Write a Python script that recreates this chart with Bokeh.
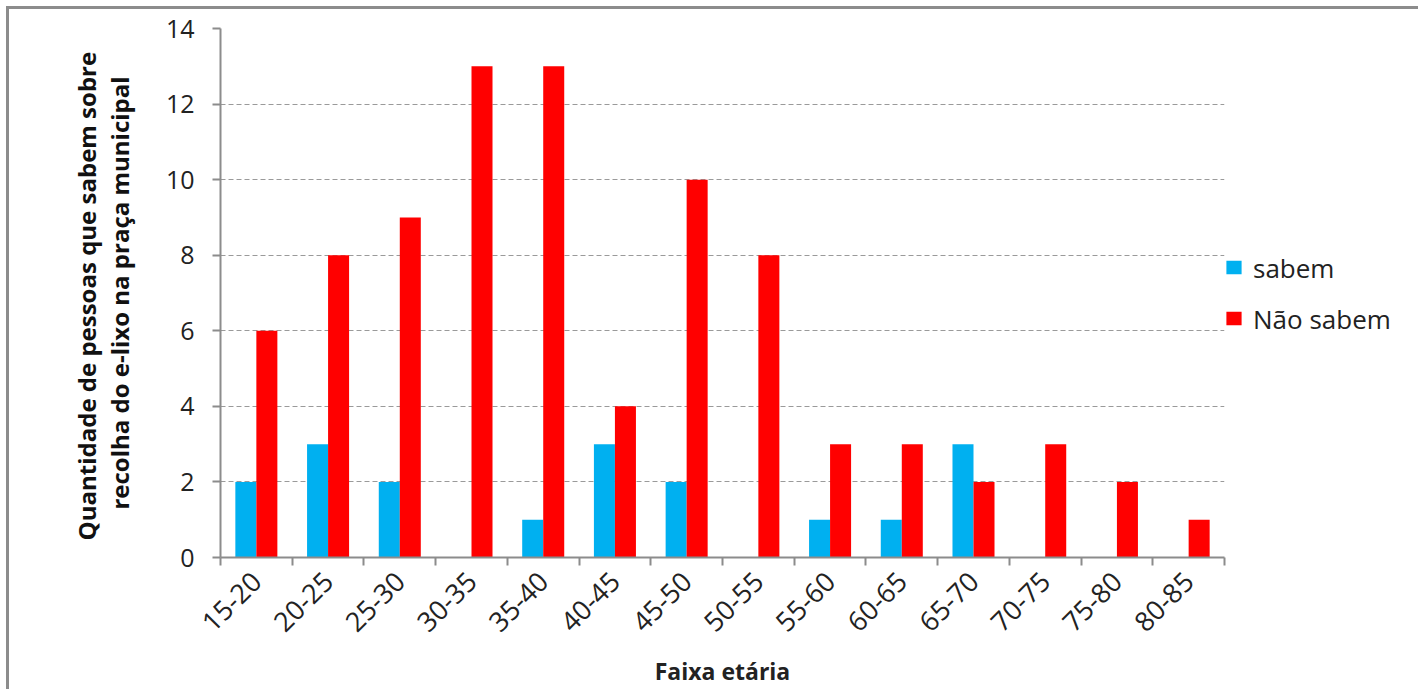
from bokeh.plotting import figure
from bokeh.models import FixedTicker, Legend, LegendItem, ColumnDataSource
from bokeh.transform import dodge
from bokeh.embed import file_html
from bokeh.resources import INLINE
import math

categories = ["15-20", "20-25", "25-30", "30-35", "35-40", "40-45", "45-50",
              "50-55", "55-60", "60-65", "65-70", "70-75", "75-80", "80-85"]
sabem = [2, 3, 2, 0, 1, 3, 2, 0, 1, 1, 3, 0, 0, 0]
nao_sabem = [6, 8, 9, 13, 13, 4, 10, 8, 3, 3, 2, 3, 2, 1]
y_ticks = [0, 2, 4, 6, 8, 10, 12, 14]

pos = [i + 0.5 for i in range(len(categories))]
src = ColumnDataSource(dict(x=pos, sabem=sabem, nao=nao_sabem))

FONT = "Open Sans"

p = figure(frame_width=1004, frame_height=529, x_range=(0, len(categories)), y_range=(0, 14),
           output_backend="svg", toolbar_location=None,
           min_border_left=211, min_border_right=194, min_border_top=19,
           min_border_bottom=132)
p.styles = {"border-left": "3px solid #8c8c8c", "border-top": "3px solid #8c8c8c",
            "margin-left": "6px", "margin-top": "6px"}
p.outline_line_color = None

w = 0.293
rb = p.vbar(x=dodge("x", -w / 2, range=p.x_range), top="sabem", width=w, bottom=0,
            source=src, fill_color="#00b0f0", line_color=None)
rn = p.vbar(x=dodge("x", w / 2, range=p.x_range), top="nao", width=w, bottom=0,
            source=src, fill_color="#ff0000", line_color=None)

# axes
p.xaxis.ticker = FixedTicker(ticks=pos, minor_ticks=list(range(len(categories) + 1)))
p.xaxis.major_label_overrides = {x: c for x, c in zip(pos, categories)}
p.xaxis.major_tick_line_color = None
p.xaxis.minor_tick_line_color = "#8c8c8c"
p.xaxis.minor_tick_line_width = 2
p.xaxis.minor_tick_out = 8
p.xaxis.minor_tick_in = 0
p.xaxis.major_label_orientation = math.pi / 4
p.xaxis.major_label_standoff = 11
p.xaxis.major_label_text_font = FONT
p.xaxis.major_label_text_font_size = "27px"
p.xaxis.major_label_text_color = "#222222"
p.xaxis.axis_line_color = "#8c8c8c"
p.xaxis.axis_line_width = 2
p.xaxis.axis_label = "Faixa etária"
p.xaxis.axis_label_text_font = FONT
p.xaxis.axis_label_text_font_style = "bold"
p.xaxis.axis_label_text_font_size = "23px"
p.xaxis.axis_label_text_color = "#222222"
p.xaxis.axis_label_standoff = 12

p.yaxis.ticker = FixedTicker(ticks=y_ticks)
p.yaxis.minor_tick_line_color = None
p.yaxis.major_tick_line_color = "#8c8c8c"
p.yaxis.major_tick_line_width = 2
p.yaxis.major_tick_out = 8
p.yaxis.major_tick_in = 0
p.yaxis.major_label_standoff = 18
p.yaxis.axis_line_color = "#8c8c8c"
p.yaxis.axis_line_width = 2
p.yaxis.major_label_text_font = FONT
p.yaxis.major_label_text_font_size = "25px"
p.yaxis.major_label_text_color = "#222222"
p.yaxis.axis_label = "Quantidade de pessoas  que sabem sobre\nrecolha do e-lixo na praça municipal"
p.yaxis.axis_label_text_font = FONT
p.yaxis.axis_label_text_font_style = "bold"
p.yaxis.axis_label_text_font_size = "24px"
p.yaxis.axis_label_text_line_height = 1.0
p.yaxis.axis_label_text_color = "#111111"
p.yaxis.axis_label_standoff = 27

p.xgrid.grid_line_color = None
p.ygrid.grid_line_color = "#9a9a9a"
p.ygrid.grid_line_dash = "5 3"
p.ygrid.grid_line_width = 1

legend = Legend(items=[LegendItem(label="sabem", renderers=[rb]),
                       LegendItem(label="Não sabem", renderers=[rn])],
                location="center_left", border_line_color=None, background_fill_alpha=0,
                label_text_font=FONT, label_text_font_size="26px",
                label_text_color="#222222", glyph_width=19, glyph_height=17,
                spacing=15, margin=0, padding=0, label_standoff=10)
p.add_layout(legend, "right")

open("out.html", "w").write(file_html(p, INLINE))
